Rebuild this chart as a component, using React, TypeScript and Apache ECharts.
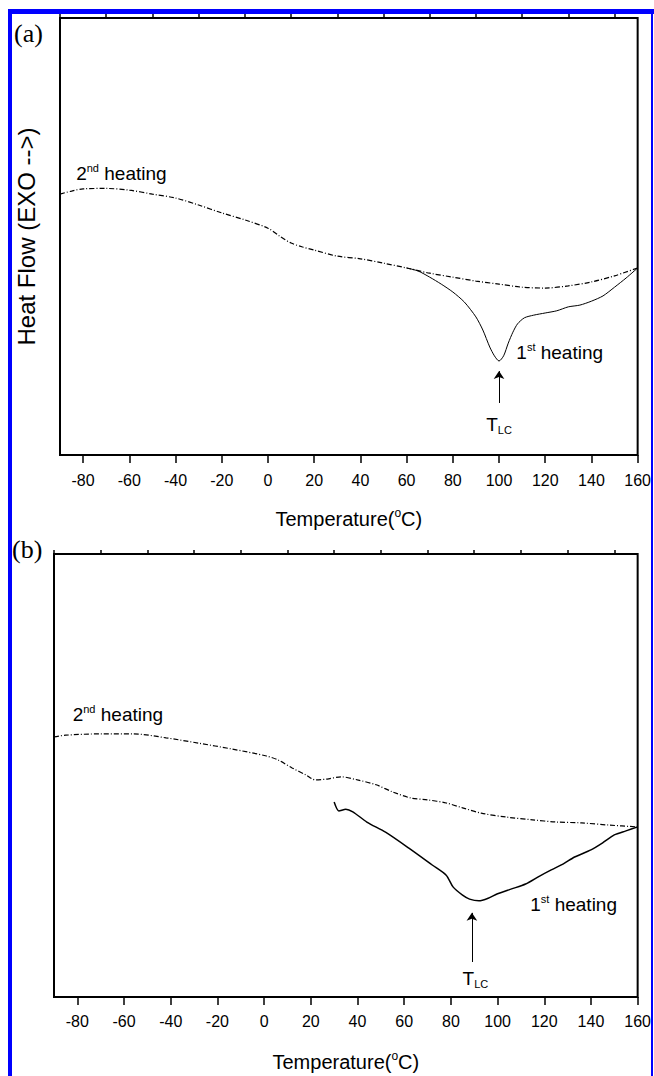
import React, { useEffect, useRef } from "react";
import * as echarts from "echarts";

// ---- Data ----
const xMin = -90;
const xMax = 160;
const majorTicks = [-80, -60, -40, -20, 0, 20, 40, 60, 80, 100, 120, 140, 160];
const minorTicks = [-90, -70, -50, -30, -10, 10, 30, 50, 70, 90, 110, 130, 150];

// Panel (a)
const temps2A = [-90, -85, -80, -70, -60, -50, -40, -30, -20, -10, 0, 5, 10, 15, 20, 30, 40, 50, 60, 70, 80, 90, 100, 110, 120, 130, 140, 150, 160];
const flow2A = [59.7, 60.4, 60.9, 61.0, 60.6, 59.7, 58.8, 57.2, 55.4, 53.8, 51.9, 50.1, 48.5, 47.6, 46.9, 45.5, 44.9, 43.9, 42.8, 41.6, 40.7, 39.8, 39.1, 38.4, 38.2, 38.7, 39.6, 41.0, 42.8];
const temps1A = [60, 65, 70, 75, 80, 85, 90, 93, 96, 98, 100, 102, 104, 106, 108, 111, 115, 120, 125, 130, 135, 140, 145, 150, 155, 160];
const flow1A = [42.8, 42.1, 40.7, 39.1, 37.3, 35.0, 31.6, 28.6, 24.7, 22.7, 21.5, 22.7, 25.6, 28.1, 30.0, 31.4, 32.0, 32.5, 33.0, 33.9, 34.3, 35.2, 36.4, 38.4, 40.5, 42.8];

// Panel (b)
const temps2B = [-90, -85, -70, -56, -42, -28, -14, 1, 6, 12, 18, 22, 27, 33, 40, 48, 55, 63, 70, 78, 85, 93, 104, 115, 125, 136, 148, 160];
const flow2B = [58.7, 59.1, 59.4, 59.4, 58.5, 57.3, 56.0, 54.4, 53.5, 51.7, 50.1, 49.0, 49.2, 49.7, 49.0, 47.9, 46.3, 44.9, 44.5, 43.8, 42.7, 41.5, 40.6, 40.0, 39.5, 39.3, 38.8, 38.4];
const temps1B = [30, 32, 35, 38, 44, 52, 62, 72, 78, 81, 85, 88, 92, 96, 100, 106, 112, 118, 123, 128, 133, 140, 145, 150, 155, 160];
const flow1B = [44.0, 42.0, 42.4, 41.8, 39.5, 37.2, 33.6, 29.8, 27.5, 24.8, 23.0, 22.1, 21.7, 22.3, 23.3, 24.4, 25.5, 27.3, 28.7, 30.0, 31.6, 33.2, 34.8, 36.6, 37.5, 38.4];

// Annotation anchors [temperature, heat flow]
const tlcA = 100;
const tlcB = 89;

const F = "'Liberation Sans', Arial, Helvetica, sans-serif";
const SERIF = "'Liberation Serif', 'Times New Roman', serif";

const pairs = (xs: number[], ys: number[]) => xs.map((x, i) => [x, ys[i]]);

const rich = {
  b: { fontSize: 19, fontFamily: F, color: "#000", lineHeight: 22 },
  sup: { fontSize: 11, fontFamily: F, color: "#000", lineHeight: 11, verticalAlign: "top" },
  sub: { fontSize: 11, fontFamily: F, color: "#000", lineHeight: 11, verticalAlign: "bottom" },
  t: { fontSize: 20, fontFamily: F, color: "#000", lineHeight: 24 },
  tsup: { fontSize: 12, fontFamily: F, color: "#000", lineHeight: 12, verticalAlign: "top" },
};

const dashDot = [5, 2, 1, 2];

function markText(coord: number[], text: string, position: string) {
  return {
    coord,
    symbol: "circle",
    symbolSize: 0,
    label: {
      show: true,
      position,
      distance: 0,
      formatter: text,
      rich,
    },
  };
}

function xAxes(gridIndex: number, margin: number, nameGap: number) {
  return [
    {
      type: "value",
      gridIndex,
      min: xMin,
      max: xMax,
      axisLine: { show: false },
      splitLine: { show: false },
      axisTick: {
        show: true,
        customValues: majorTicks,
        length: 8,
        lineStyle: { color: "#000", width: 1.5 },
      },
      axisLabel: {
        show: true,
        customValues: majorTicks,
        margin,
        fontSize: 16,
        fontFamily: F,
        color: "#000",
      },
      name: "{t|Temperature(}{tsup|o}{t|C)}",
      nameLocation: "middle",
      nameGap,
      nameTextStyle: { rich },
    },
    {
      type: "value",
      gridIndex,
      min: xMin,
      max: xMax,
      axisLine: { show: false },
      splitLine: { show: false },
      axisLabel: { show: false },
      axisTick: {
        show: true,
        customValues: minorTicks,
        length: 4,
        lineStyle: { color: "#000", width: 1.5 },
      },
    },
  ];
}

export default function App() {
  const ref = useRef<HTMLDivElement>(null);

  useEffect(() => {
    document.body.style.margin = "0";
    const chart = echarts.init(ref.current!, null, { renderer: "svg" });
    const option: any = {
      animation: false,
      backgroundColor: "#fff",
      textStyle: { fontFamily: F },
      grid: [
        { left: 60, top: 18, width: 579, height: 437, show: true, borderColor: "#000", borderWidth: 2, backgroundColor: "transparent" },
        { left: 54, top: 554, width: 585, height: 443, show: true, borderColor: "#000", borderWidth: 2, backgroundColor: "transparent" },
      ],
      xAxis: [...xAxes(0, 17, 52), ...xAxes(1, 16, 53)],
      yAxis: [
        {
          type: "value",
          gridIndex: 0,
          min: 0,
          max: 100,
          axisLine: { show: false },
          axisTick: { show: false },
          axisLabel: { show: false },
          splitLine: { show: false },
          name: "Heat Flow (EXO -->)",
          nameLocation: "middle",
          nameGap: 22,
          nameTextStyle: { fontSize: 24, fontFamily: F, color: "#000" },
        },
        {
          type: "value",
          gridIndex: 1,
          min: 0,
          max: 100,
          axisLine: { show: false },
          axisTick: { show: false },
          axisLabel: { show: false },
          splitLine: { show: false },
        },
      ],
      series: [
        {
          name: "2nd heating (a)",
          type: "line",
          xAxisIndex: 0,
          yAxisIndex: 0,
          data: pairs(temps2A, flow2A),
          showSymbol: false,
          smooth: 0.3,
          silent: true,
          lineStyle: { color: "#000", width: 1.2, type: dashDot },
          markPoint: {
            silent: true,
            data: [markText([-83, 64.5], "{b|2}{sup|nd}{b| heating}", "right")],
          },
        },
        {
          name: "1st heating (a)",
          type: "line",
          xAxisIndex: 0,
          yAxisIndex: 0,
          data: pairs(temps1A, flow1A),
          showSymbol: false,
          smooth: 0.25,
          silent: true,
          lineStyle: { color: "#000", width: 1 },
          markPoint: {
            silent: true,
            data: [
              markText([107.5, 23.5], "{b|1}{sup|st}{b| heating}", "right"),
              markText([tlcA, 6.9], "{b|T}{sub|LC}", "inside"),
            ],
          },
          markLine: {
            silent: true,
            symbol: ["none", "arrow"],
            symbolSize: 8,
            label: { show: false },
            lineStyle: { color: "#000", width: 1, type: "solid" },
            data: [[{ coord: [tlcA, 11.9] }, { coord: [tlcA, 19.2] }]],
          },
        },
        {
          name: "2nd heating (b)",
          type: "line",
          xAxisIndex: 2,
          yAxisIndex: 1,
          data: pairs(temps2B, flow2B),
          showSymbol: false,
          smooth: 0.3,
          silent: true,
          lineStyle: { color: "#000", width: 1.2, type: dashDot },
          markPoint: {
            silent: true,
            data: [markText([-82, 63.7], "{b|2}{sup|nd}{b| heating}", "right")],
          },
        },
        {
          name: "1st heating (b)",
          type: "line",
          xAxisIndex: 2,
          yAxisIndex: 1,
          data: pairs(temps1B, flow1B),
          showSymbol: false,
          smooth: 0.25,
          silent: true,
          lineStyle: { color: "#000", width: 1.5 },
          markPoint: {
            silent: true,
            data: [
              markText([114, 20.8], "{b|1}{sup|st}{b| heating}", "right"),
              markText([tlcB + 1.5, 4.1], "{b|T}{sub|LC}", "inside"),
            ],
          },
          markLine: {
            silent: true,
            symbol: ["none", "arrow"],
            symbolSize: 8,
            label: { show: false },
            lineStyle: { color: "#000", width: 1, type: "solid" },
            data: [[{ coord: [tlcB, 7.9] }, { coord: [tlcB, 19.0] }]],
          },
        },
      ],
      graphic: [
        { type: "text", left: 14, top: 20, style: { text: "(a)", font: `26px ${SERIF}`, fill: "#000" }, z: 100 },
        { type: "text", left: 12, top: 536, style: { text: "(b)", font: `26px ${SERIF}`, fill: "#000" }, z: 100 },
        { type: "rect", shape: { x: 8, y: 9, width: 646, height: 5 }, style: { fill: "#0000ff" }, z: 200 },
        { type: "rect", shape: { x: 8, y: 9, width: 4, height: 1067 }, style: { fill: "#0000ff" }, z: 200 },
        { type: "rect", shape: { x: 651, y: 9, width: 2, height: 1067 }, style: { fill: "#0000ff" }, z: 200 },
      ],
    };
    chart.setOption(option);
    return () => chart.dispose();
  }, []);

  return (
    <div
      ref={ref}
      style={{ position: "absolute", left: 0, top: 0, width: 654, height: 1076 }}
    />
  );
}
